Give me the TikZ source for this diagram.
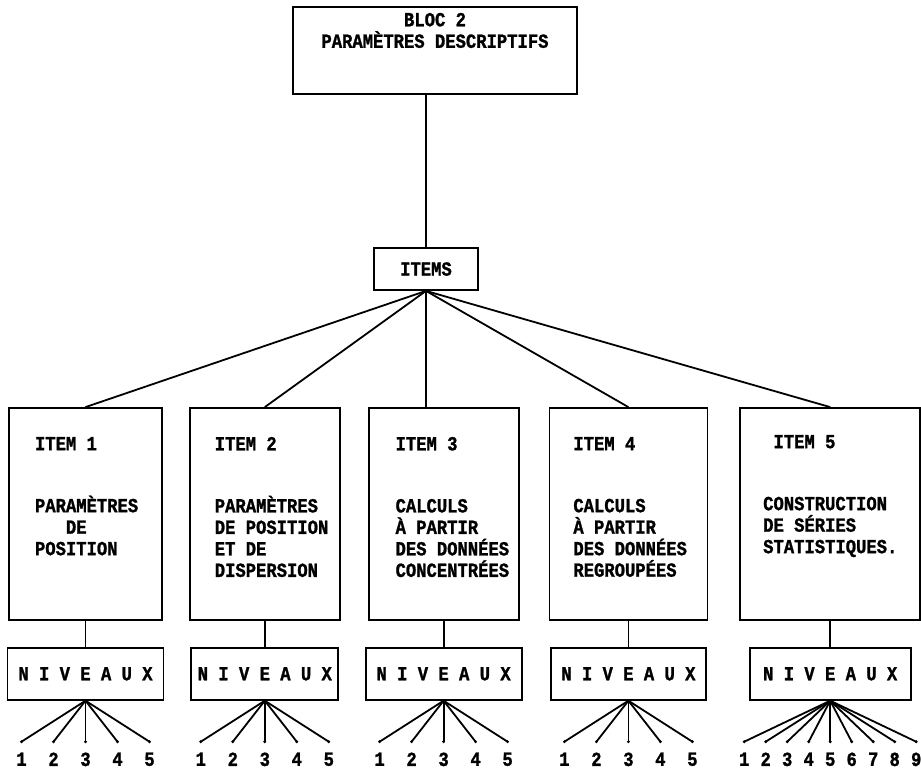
\documentclass[tikz,border=0pt]{standalone}
\usepackage{fontspec}
\newfontfamily\typefont[FakeStretch=0.86, BoldFeatures={FakeBold=1.2}]{Liberation Mono}
\usetikzlibrary{positioning,calc}

\tikzset{
	box/.style={draw, inner sep=0pt},
	itembox/.style={box, minimum height=212pt},
	nivbox/.style={box, minimum height=52pt},
	itemtext/.style={inner sep=0pt, align=left},
	levelnum/.style={inner sep=0pt, anchor=north},
}

\begin{document}
\begin{tikzpicture}[x=1pt, y=-1pt, line width=1.8pt, font=\typefont\bfseries\fontsize{20}{21.5}\selectfont]
\useasboundingbox (0,0) rectangle (921,769);
\node[box, minimum width=284pt, inner ysep=6pt, text depth=40.6pt, align=center, anchor=north] (bloc) at (435,6) {BLOC 2\\PARAMÈTRES DESCRIPTIFS};
\node[box, minimum width=104pt, minimum height=42pt]	(items)	at (426,269)	{ITEMS};
\node[itembox, minimum width=153pt]	(item1)	at (85.5,514)			{};
\node[itembox, minimum width=150pt]	(item2)	[right=26pt of item1]	{};
\node[itembox, minimum width=150pt]	(item3)	[right=27pt of item2]	{};
\node[itembox, minimum width=158pt]	(item4)	[right=29pt of item3]	{};
\node[itembox, minimum width=180pt]	(item5)	[right=31pt of item4]	{};
\node[itemtext]	(txt1)	[below right=29pt and 26pt of item1.north west]	{ITEM 1\\[40.5pt]PARAMÈTRES\\\phantom{XXX}DE\\POSITION};
\node[itemtext]	(txt2)	[below right=29pt and 25pt of item2.north west]	{ITEM 2\\[40.5pt]PARAMÈTRES\\DE POSITION\\ET DE\\DISPERSION};
\node[itemtext]	(txt3)	[below right=29pt and 27pt of item3.north west]	{ITEM 3\\[40.5pt]CALCULS\\À PARTIR\\DES DONNÉES\\CONCENTRÉES};
\node[itemtext]	(txt4)	[below right=29pt and 24pt of item4.north west]	{ITEM 4\\[40.5pt]CALCULS\\À PARTIR\\DES DONNÉES\\REGROUPÉES};
\node[itemtext]	(txt5)	[below right=27pt and 23pt of item5.north west]	{\phantom{X}ITEM 5\\[40.5pt]CONSTRUCTION\\DE SÉRIES\\STATISTIQUES.};
\node[nivbox, minimum width=156pt]	(niv1)	[below=26pt of item1]	{N I V E A U X};
\node[nivbox, minimum width=147pt]	(niv2)	[below=26pt of item2]	{N I V E A U X};
\node[nivbox, minimum width=156pt]	(niv3)	[below=26pt of item3]	{N I V E A U X};
\node[nivbox, minimum width=155pt]	(niv4)	[below=26pt of item4]	{N I V E A U X};
\node[nivbox, minimum width=161pt]	(niv5)	[below=26pt of item5]	{N I V E A U X};
\draw (bloc.south -| items.north) -- (items.north);
\foreach \k in {1,2,4,5}
	\draw (items.south) -- (item\k.north);
\draw (items.south) -- (items.south |- item3.north);
\foreach \k in {1,...,5}
	\draw (item\k.south) -- (niv\k.north);
\foreach \k in {1,...,4}
	\foreach \i in {1,...,5} {
		\coordinate (e\k-\i) at ($(niv\k.south)+({(\i-3)*32},41)$);
		\draw (niv\k.south) -- (e\k-\i);
		\fill (e\k-\i) circle (1.6pt);
		\node[levelnum] (l\k-\i) [below=10pt of e\k-\i] {\i};
	}
\foreach \i in {1,...,9} {
	\coordinate (e5-\i) at ($(niv5.south)+({(\i-5)*21.5},41)$);
	\draw (niv5.south) -- (e5-\i);
	\fill (e5-\i) circle (1.6pt);
	\node[levelnum] (l5-\i) [below=10pt of e5-\i] {\i};
}
\end{tikzpicture}
\end{document}
